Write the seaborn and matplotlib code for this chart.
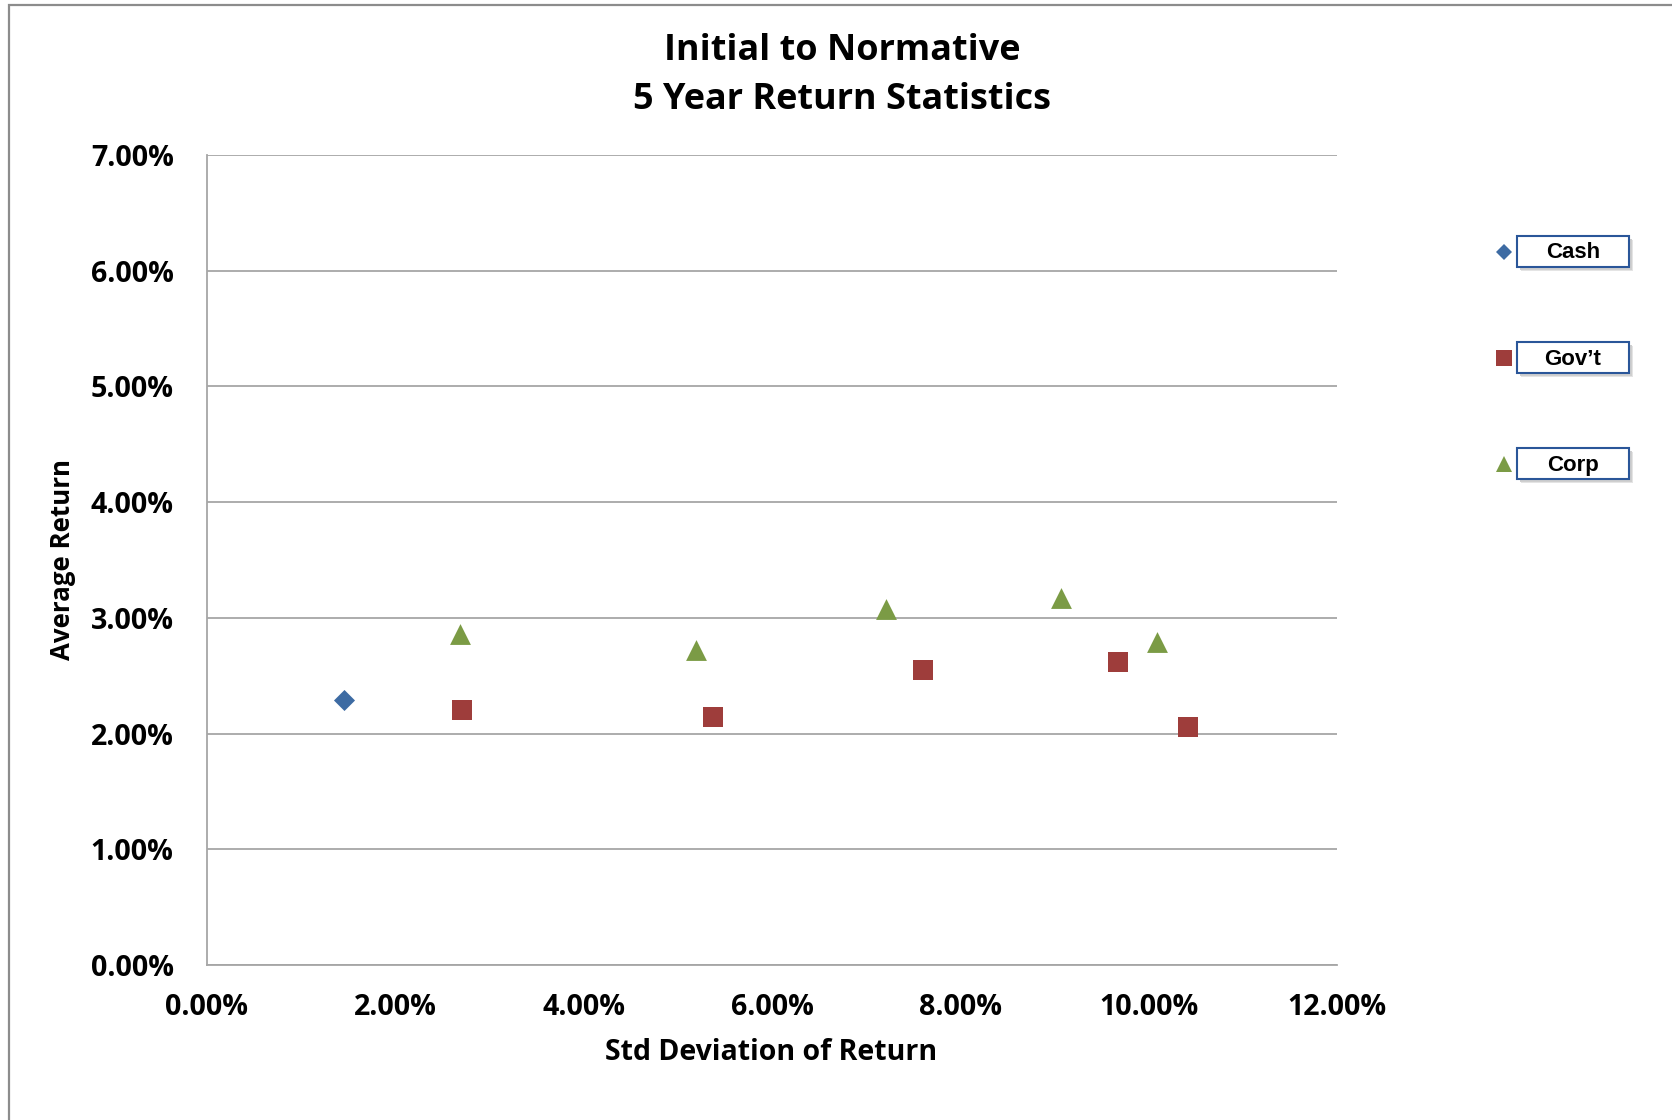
import matplotlib
matplotlib.use("Agg")
import matplotlib.pyplot as plt
import pandas as pd
import seaborn as sns
from matplotlib.ticker import PercentFormatter, MultipleLocator
from matplotlib.patches import Rectangle
from matplotlib.lines import Line2D

# Risk / return statistics (percent units)
series_names = ["Cash", "Gov\u2019t", "Corp"]
cash_std = [1.46]
cash_ret = [2.29]
govt_std = [2.71, 5.37, 7.60, 9.67, 10.42]
govt_ret = [2.20, 2.14, 2.55, 2.62, 2.06]
corp_std = [2.69, 5.19, 7.21, 9.07, 10.09]
corp_ret = [2.86, 2.72, 3.08, 3.17, 2.79]

title_lines = ["Initial to Normative", "5 Year Return Statistics"]
x_label = "Std Deviation of Return"
y_label = "Average Return"

df = pd.concat([
    pd.DataFrame({"std": cash_std, "ret": cash_ret, "series": series_names[0]}),
    pd.DataFrame({"std": govt_std, "ret": govt_ret, "series": series_names[1]}),
    pd.DataFrame({"std": corp_std, "ret": corp_ret, "series": series_names[2]}),
], ignore_index=True)

colors = {"Cash": "#3D6BA3", "Gov\u2019t": "#9E3D3B", "Corp": "#7B9B45"}
markers = {"Cash": "D", "Gov\u2019t": "s", "Corp": "^"}
sizes = {"Cash": 115, "Gov\u2019t": 210, "Corp": 225}
legend_ms = {"Cash": 8, "Gov\u2019t": 12, "Corp": 12}

sns.set_theme(style="white")
plt.rcParams["font.family"] = ["Open Sans", "DejaVu Sans"]

W, H = 1672, 1120
fig = plt.figure(figsize=(W / 100, H / 100), dpi=100)
fig.patch.set_facecolor("white")
renderer = fig.canvas.get_renderer()


def fx(x):
    return x / W


def fy(y):
    return 1 - y / H


def fit_width(texts, target_px, rotated=False):
    """Scale the font size of texts so the first one spans target_px."""
    bb = texts[0].get_window_extent(renderer)
    span = bb.height if rotated else bb.width
    new = texts[0].get_fontsize() * target_px / span
    for t in texts:
        t.set_fontsize(new)


ax = fig.add_axes([fx(207), fy(965), 1130 / W, 810 / H])

for name in series_names:
    sns.scatterplot(data=df[df["series"] == name], x="std", y="ret",
                    marker=markers[name], s=sizes[name], color=colors[name],
                    linewidth=0, legend=False, ax=ax, zorder=3)

ax.set_xlim(0, 12)
ax.set_ylim(0, 7)
ax.xaxis.set_major_locator(MultipleLocator(2))
ax.yaxis.set_major_locator(MultipleLocator(1))
ax.xaxis.set_major_formatter(PercentFormatter(xmax=100, decimals=2))
ax.yaxis.set_major_formatter(PercentFormatter(xmax=100, decimals=2))

grid_c = "#A6A6A6"
ax.grid(axis="y", color=grid_c, linewidth=1.3)
ax.grid(axis="x", visible=False)
ax.set_axisbelow(True)
for side in ["top", "right"]:
    ax.spines[side].set_visible(False)
for side in ["left", "bottom"]:
    ax.spines[side].set_color(grid_c)
    ax.spines[side].set_linewidth(1.3)

ax.tick_params(axis="both", length=0, labelsize=20, labelcolor="black")
ax.tick_params(axis="y", pad=24)
ax.tick_params(axis="x", pad=20)
fig.canvas.draw()
for lab in ax.get_xticklabels() + ax.get_yticklabels():
    lab.set_fontweight("bold")
ylabs = ax.get_yticklabels()
fit_width([ylabs[-1]], 83)
tick_size = ylabs[-1].get_fontsize()
ax.tick_params(axis="both", labelsize=tick_size)
for lab in ax.get_xticklabels() + ax.get_yticklabels():
    lab.set_fontweight("bold")

ax.set_xlabel(x_label, fontsize=19, fontweight="bold", color="black")
ax.set_ylabel(y_label, fontsize=19, fontweight="bold", color="black")
ax.xaxis.label.set_va("center")
ax.yaxis.label.set_va("center")
ax.yaxis.label.set_ha("center")
ax.xaxis.set_label_coords((771 - 207) / 1130, (965 - 1052) / 810)
ax.yaxis.set_label_coords((62 - 207) / 1130, (965 - 560) / 810)
fit_width([ax.xaxis.label], 332)
fit_width([ax.yaxis.label], 200, rotated=True)

# Title
t1 = fig.text(fx(842), fy(51), title_lines[0], ha="center", va="center",
              fontsize=25, fontweight="bold", color="black")
t2 = fig.text(fx(842), fy(100), title_lines[1], ha="center", va="center",
              fontsize=25, fontweight="bold", color="black")
fit_width([t2, t1], 417)

# Legend: one framed label per series, marker to the left
box_x0, box_x1 = 1517, 1629
for name, cy in zip(series_names, [251, 357, 463]):
    y0, y1 = cy + 15.5, cy - 15.5
    for off, c in [(4, "#E4E4E4"), (3, "#CFCFCF")]:
        fig.add_artist(Rectangle((fx(box_x0 + off), fy(y0 + off)),
                                 (box_x1 - box_x0) / W, (y0 - y1) / H,
                                 transform=fig.transFigure, facecolor=c,
                                 edgecolor="none", zorder=5))
    fig.add_artist(Rectangle((fx(box_x0), fy(y0)), (box_x1 - box_x0) / W,
                             (y0 - y1) / H, transform=fig.transFigure,
                             facecolor="white", edgecolor="#2A5699",
                             linewidth=1.5, zorder=6))
    fig.text(fx((box_x0 + box_x1) / 2), fy(cy + 2), name, ha="center",
             va="center", fontsize=16, fontweight="bold",
             family="Liberation Sans", color="black", zorder=7)
    fig.add_artist(Line2D([fx(1504)], [fy(cy + 1)], marker=markers[name],
                          markersize=legend_ms[name], color=colors[name],
                          markeredgewidth=0, linestyle="none",
                          transform=fig.transFigure, zorder=7))

# Outer chart frame
fig.add_artist(Rectangle((fx(9), -0.05), 1.2, fy(5) + 0.05,
                         transform=fig.transFigure, fill=False,
                         edgecolor="#8C8C8C", linewidth=1.6, zorder=1))

fig.savefig("out.png", dpi=100)
